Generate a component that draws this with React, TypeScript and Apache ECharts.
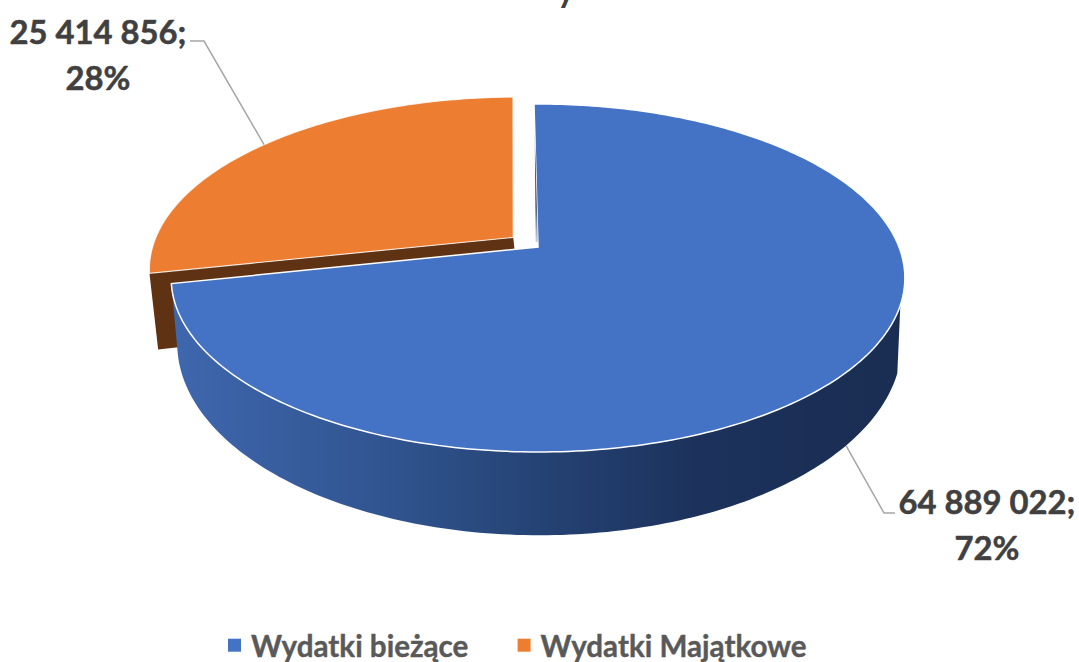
import React, { useEffect, useRef } from "react";
import * as echarts from "echarts";

const categories = ["Wydatki bieżące", "Wydatki Majątkowe"];
const values = [64889022, 25414856];
const valueLabels = ["64 889 022;", "25 414 856;"];
const percentLabels = ["72%", "28%"];
const titleFragment = "y";

const FONT = "Lato, Carlito, 'Noto Sans', sans-serif";
const total = values.reduce((a, b) => a + b, 0);
const startDeg = -0.75;
const splitDeg = startDeg + (values[0] / total) * 360;
const endDeg = startDeg + 360;
const p = 0.178;
const topPlane = { cx: 538, cy: 247, rx: 361, ry: 168.5 };
const botPlane = { cx: 539.5, cy: 309, rx: 356.5, ry: 186 };
const topShift = [-0.0693, -0.0573];
const botShift = [-0.052, 0];
const wallStartDeg = 109;

type Plane = typeof topPlane;
function proj(pl: Plane, deg: number, r = 1, shift = [0, 0]): number[] {
  const a = (deg * Math.PI) / 180;
  const u = r * Math.sin(a) + shift[0];
  const v = -r * Math.cos(a) + shift[1];
  const w = 1 - p * v;
  return [pl.cx + (pl.rx * u) / w, pl.cy + (pl.ry * v) / w];
}
function arc(pl: Plane, from: number, to: number, shift = [0, 0]): number[][] {
  const n = Math.max(2, Math.ceil(Math.abs(to - from)));
  const pts: number[][] = [];
  for (let i = 0; i <= n; i++) pts.push(proj(pl, from + ((to - from) * i) / n, 1, shift));
  return pts;
}

const leaderLine = { stroke: "#a6a6a6", lineWidth: 1.5, fill: "none" };
const labelStyle = {
  fill: "#404040",
  fontFamily: FONT,
  fontWeight: "bold" as const,
  fontSize: 32.8,
  lineHeight: 46,
  textAlign: "center" as const,
  textVerticalAlign: "middle" as const,
  stroke: "#404040",
  lineWidth: 0.5,
};

function renderOrange() {
  const tipT = proj(topPlane, splitDeg, 1, topShift);
  const apexT = proj(topPlane, 0, 0, topShift);
  const tipB = proj(botPlane, splitDeg, 1, botShift);
  const apexB = proj(botPlane, 0, 0, botShift);
  const anchor = proj(topPlane, (splitDeg + endDeg) / 2, 1, topShift);
  return {
    type: "group",
    children: [
      { type: "polygon", shape: { points: [tipT, apexT, apexB, tipB] }, style: { fill: "#5f3213" } },
      {
        type: "polygon",
        shape: { points: [apexT, ...arc(topPlane, splitDeg, endDeg, topShift)] },
        style: { fill: "#ed7d31", stroke: "rgba(255,255,255,0.8)", lineWidth: 1.2 },
      },
      { type: "polyline", shape: { points: [[190, 41], [204, 41], anchor] }, style: leaderLine },
      { type: "text", style: { ...labelStyle, x: 98, y: 54, text: `${valueLabels[1]}\n${percentLabels[1]}` } },
    ],
  };
}

function renderBlue() {
  const apexT = proj(topPlane, 0, 0);
  const wallPts = [...arc(topPlane, wallStartDeg, splitDeg), ...arc(botPlane, splitDeg, wallStartDeg)];
  const edge = (t: number) => proj(topPlane, startDeg, t);
  const s0 = edge(0.03);
  const s1 = edge(0.82);
  const anchor = proj(botPlane, 130.5);
  return {
    type: "group",
    children: [
      {
        type: "polygon",
        shape: { points: wallPts },
        style: {
          fill: {
            type: "linear", x: 0, y: 0, x2: 1, y2: 0,
            colorStops: [
              { offset: 0, color: "#3f67ae" },
              { offset: 0.3, color: "#30548f" },
              { offset: 0.5, color: "#254375" },
              { offset: 0.72, color: "#1c325c" },
              { offset: 1, color: "#1a2d52" },
            ],
          },
        },
      },
      { type: "polyline", shape: { points: [anchor, [884, 513], [895, 513]] }, style: leaderLine },
      {
        type: "polygon",
        shape: { points: [apexT, ...arc(topPlane, startDeg, splitDeg)] },
        style: { fill: "#4472c4", stroke: "#ffffff", lineWidth: 1.5 },
      },
      {
        type: "polygon",
        shape: { points: [s0, s1, [s0[0] - 2.2, s0[1]]] },
        style: {
          fill: {
            type: "linear", x: 0, y: 1, x2: 0, y2: 0,
            colorStops: [
              { offset: 0, color: "#c8d2e2" },
              { offset: 0.3, color: "#4a5a78" },
              { offset: 0.7, color: "#3c4f74" },
              { offset: 1, color: "#ffffff" },
            ],
          },
        },
      },
      { type: "text", style: { ...labelStyle, x: 987, y: 524, text: `${valueLabels[0]}\n${percentLabels[0]}` } },
    ],
  };
}

export default function App() {
  const ref = useRef<HTMLDivElement>(null);
  useEffect(() => {
    const chart = echarts.init(ref.current!, undefined, { renderer: "svg" });
    chart.setOption({
      animation: false,
      backgroundColor: "#ffffff",
      legend: {
        data: categories,
        left: 223,
        top: 625,
        itemWidth: 13,
        itemHeight: 13,
        itemGap: 49,
        icon: "rect",
        textStyle: {
          color: "#595959",
          fontFamily: FONT,
          fontWeight: "bold",
          fontSize: 29.6,
          lineHeight: 30,
          padding: [0, 0, 0, 5],
          textBorderColor: "#595959",
          textBorderWidth: 0.4,
        },
      },
      graphic: [
        {
          type: "text",
          x: 566,
          y: 5,
          style: {
            text: titleFragment,
            fill: "#404040",
            fontFamily: FONT,
            fontWeight: "bold",
            fontSize: 34,
            textAlign: "center",
            textVerticalAlign: "bottom",
          },
        },
      ],
      series: [
        {
          type: "custom",
          name: categories[1],
          coordinateSystem: "none",
          itemStyle: { color: "#ed7d31" },
          data: [[values[1]]],
          renderItem: renderOrange,
        },
        {
          type: "custom",
          name: categories[0],
          coordinateSystem: "none",
          itemStyle: { color: "#4472c4" },
          data: [[values[0]]],
          renderItem: renderBlue,
        },
      ],
    });
    return () => chart.dispose();
  }, []);
  return <div ref={ref} style={{ position: "absolute", left: 0, top: 0, width: 1079, height: 662 }} />;
}
